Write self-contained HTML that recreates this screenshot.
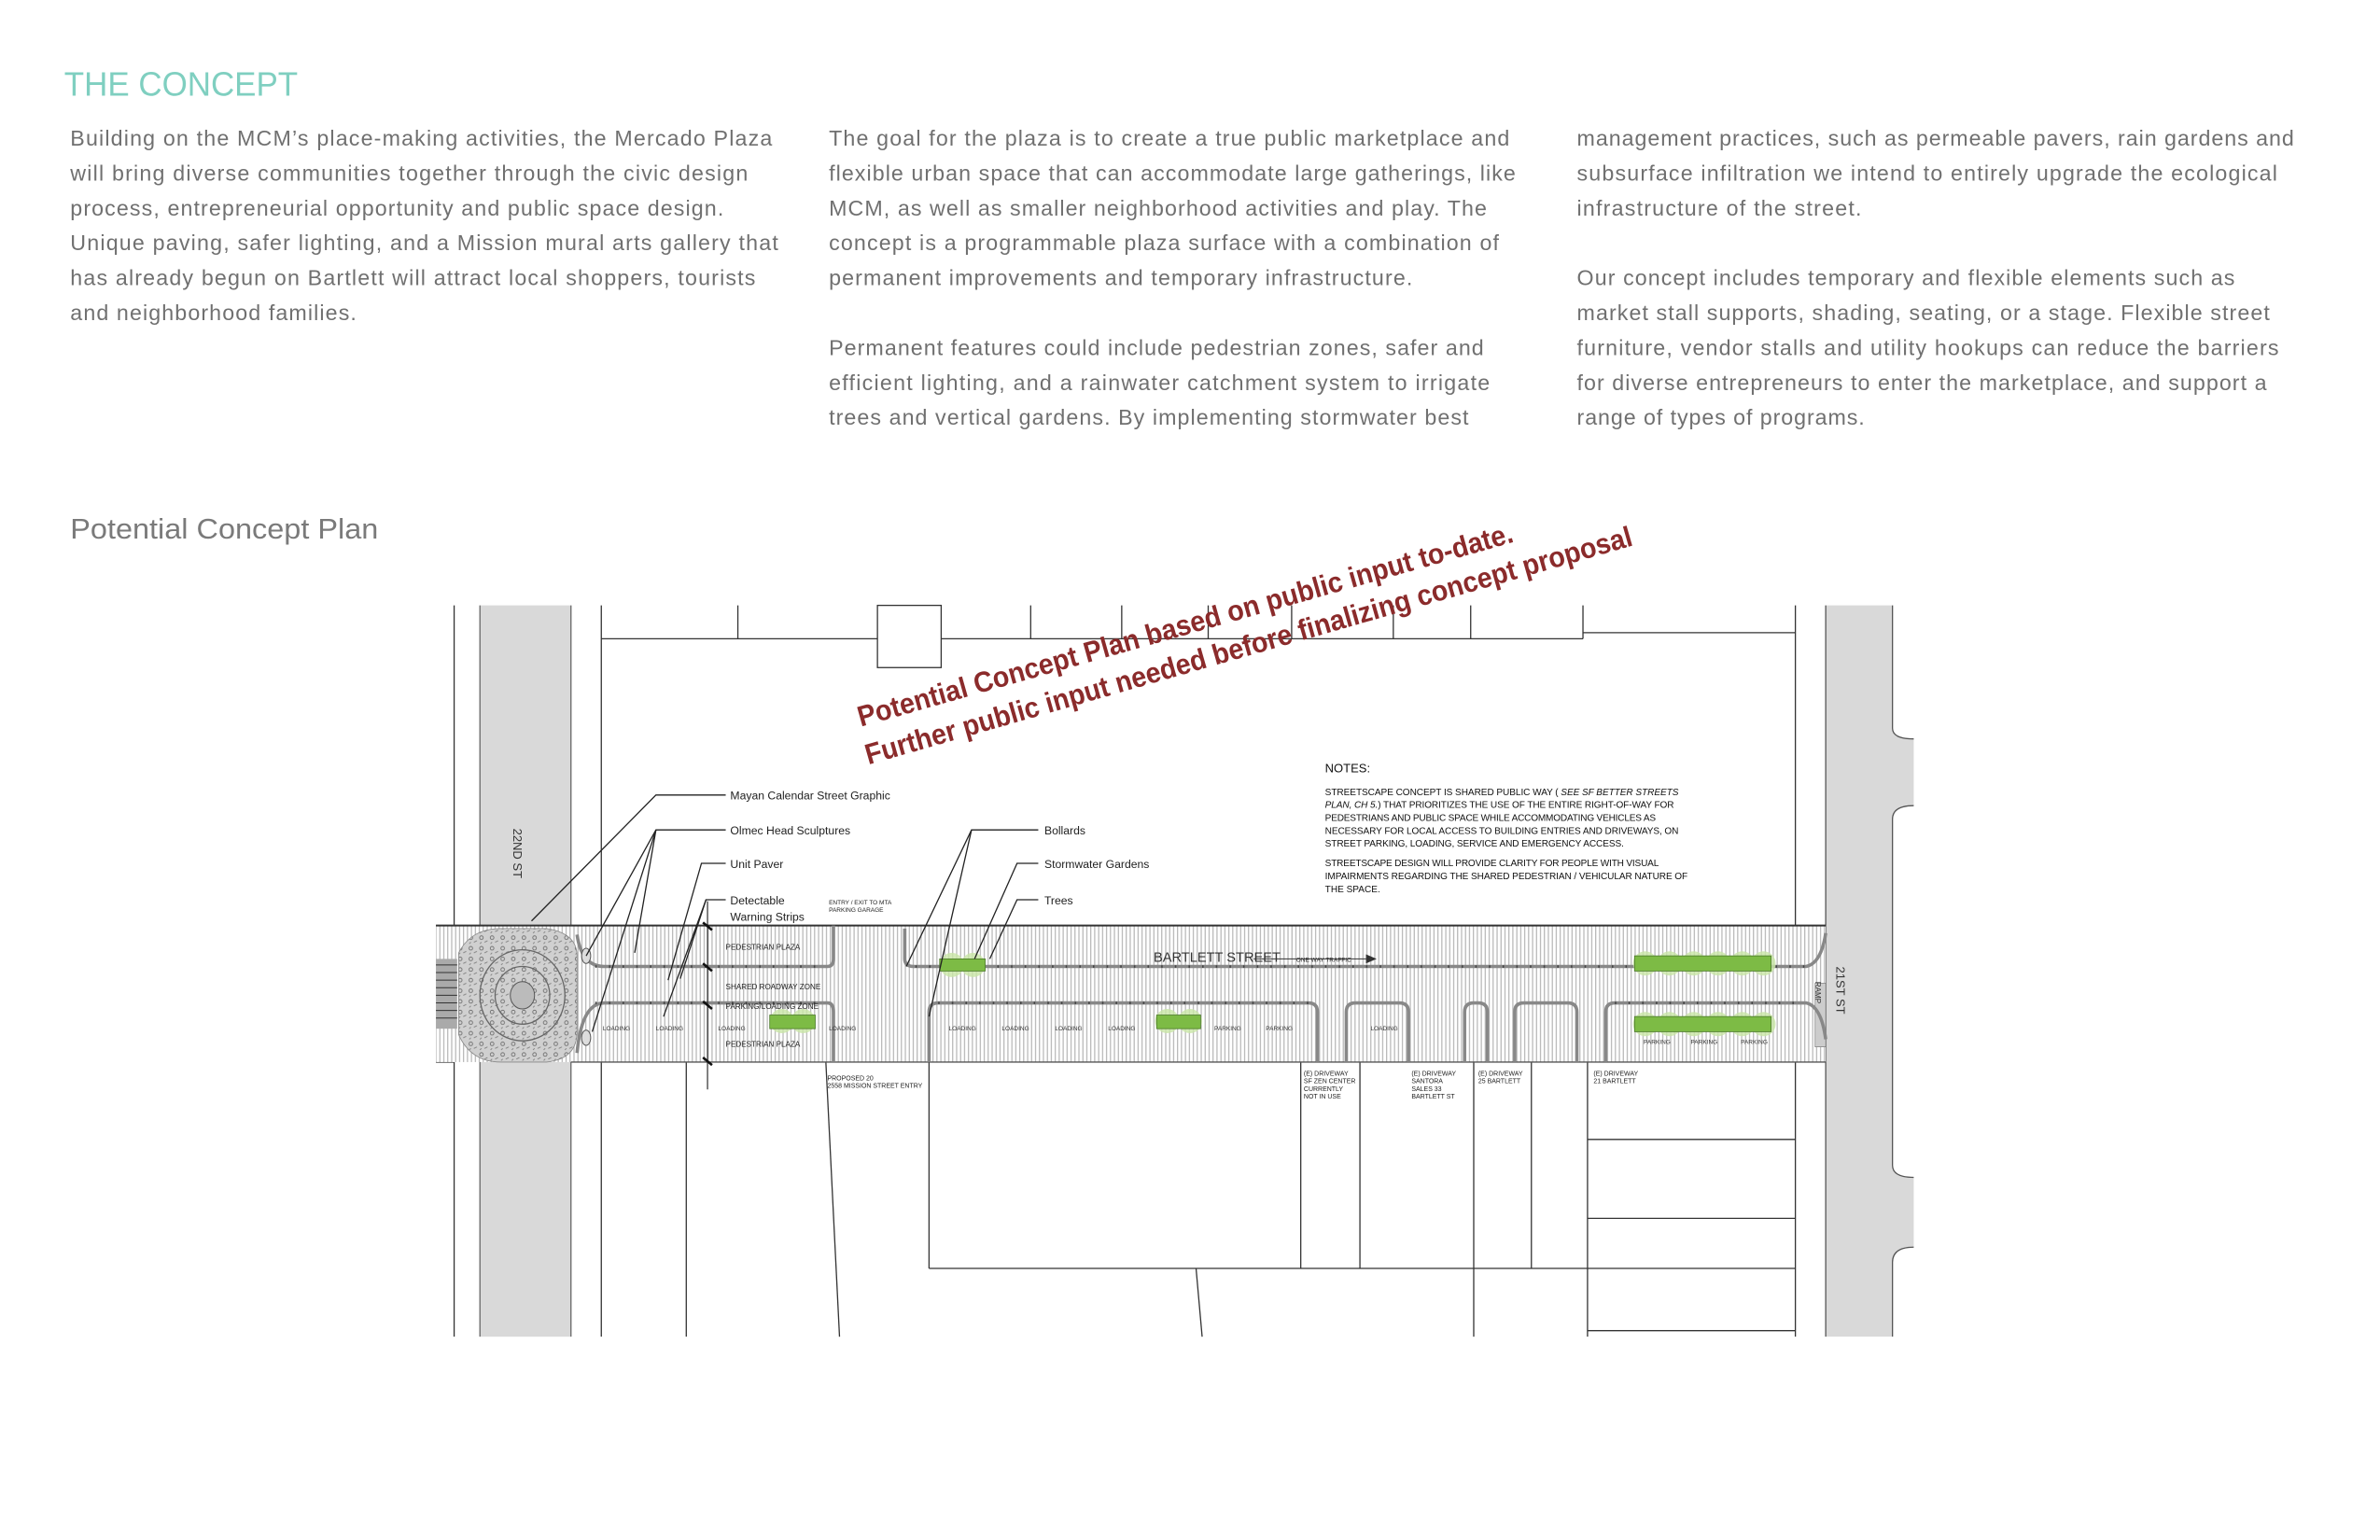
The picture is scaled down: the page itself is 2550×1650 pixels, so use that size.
<!DOCTYPE html>
<html><head><meta charset="utf-8"><style>
html,body{margin:0;padding:0;background:#fff;}
svg{display:block;}
.b{font-family:"Liberation Sans",sans-serif;font-size:14.3px;fill:#707070;letter-spacing:0.4px;}
.lbl{font-family:"Liberation Sans Narrow","Liberation Sans",sans-serif;font-size:7.5px;fill:#222;}
.tiny{font-family:"Liberation Sans",sans-serif;font-size:4px;fill:#333;}
.nt{font-family:"Liberation Sans",sans-serif;font-size:6.2px;fill:#111;}
.sm{font-family:"Liberation Sans",sans-serif;font-size:5px;fill:#222;}
</style></head><body>
<svg width="2550" height="1650" viewBox="0 0 1568 1015" xmlns="http://www.w3.org/2000/svg">
<defs>
<pattern id="h" width="2.6" height="10" patternUnits="userSpaceOnUse">
<rect width="2.6" height="10" fill="#fff"/><line x1="1" y1="0" x2="1" y2="10" stroke="#b0b0b0" stroke-width="0.7"/>
</pattern>
<pattern id="m" width="7" height="7" patternUnits="userSpaceOnUse">
<rect width="7" height="7" fill="#d0d0d0"/><circle cx="2" cy="2" r="1.2" fill="none" stroke="#666" stroke-width="0.5"/><path d="M4 5 l2 -1 M1 6 l1 -1" stroke="#777" stroke-width="0.5"/>
</pattern>
</defs>
<!-- header text -->
<text x="42" y="63" font-family="Liberation Sans, sans-serif" font-size="22" fill="#7fcfc0" textLength="154" lengthAdjust="spacingAndGlyphs">THE CONCEPT</text>
<g class="b">
<text x="46" y="96" textLength="463">Building on the MCM’s place-making activities, the Mercado Plaza</text>
<text x="46" y="119" textLength="447">will bring diverse communities together through the civic design</text>
<text x="46" y="142" textLength="431">process, entrepreneurial opportunity and public space design.</text>
<text x="46" y="165" textLength="467">Unique paving, safer lighting, and a Mission mural arts gallery that</text>
<text x="46" y="188" textLength="452">has already begun on Bartlett will attract local shoppers, tourists</text>
<text x="46" y="211" textLength="189">and neighborhood families.</text>
<text x="546" y="96" textLength="449">The goal for the plaza is to create a true public marketplace and</text>
<text x="546" y="119" textLength="453">flexible urban space that can accommodate large gatherings, like</text>
<text x="546" y="142" textLength="434">MCM, as well as smaller neighborhood activities and play. The</text>
<text x="546" y="165" textLength="442">concept is a programmable plaza surface with a combination of</text>
<text x="546" y="188" textLength="385">permanent improvements and temporary infrastructure.</text>
<text x="546" y="234" textLength="432">Permanent features could include pedestrian zones, safer and</text>
<text x="546" y="257" textLength="436">efficient lighting, and a rainwater catchment system to irrigate</text>
<text x="546" y="280" textLength="422">trees and vertical gardens. By implementing stormwater best</text>
<text x="1039" y="96" textLength="473">management practices, such as permeable pavers, rain gardens and</text>
<text x="1039" y="119" textLength="462">subsurface infiltration we intend to entirely upgrade the ecological</text>
<text x="1039" y="142" textLength="188">infrastructure of the street.</text>
<text x="1039" y="188" textLength="434">Our concept includes temporary and flexible elements such as</text>
<text x="1039" y="211" textLength="457">market stall supports, shading, seating, or a stage. Flexible street</text>
<text x="1039" y="234" textLength="463">furniture, vendor stalls and utility hookups can reduce the barriers</text>
<text x="1039" y="257" textLength="455">for diverse entrepreneurs to enter the marketplace, and support a</text>
<text x="1039" y="280" textLength="190">range of types of programs.</text>
</g>
<text x="46" y="355" font-family="Liberation Sans, sans-serif" font-size="19" fill="#7a7a7a" textLength="203" lengthAdjust="spacingAndGlyphs">Potential Concept Plan</text>

<!-- plan -->
<g fill="none" stroke="#333" stroke-width="0.8">
<rect x="316" y="399" width="60" height="482" fill="#d9d9d9" stroke="none"/>
<line x1="316" y1="399" x2="316" y2="881" stroke="#666"/>
<line x1="376" y1="399" x2="376" y2="881" stroke="#666"/>
<line x1="299" y1="399" x2="299" y2="610"/>
<line x1="299" y1="700" x2="299" y2="881"/>
<line x1="287" y1="610" x2="299" y2="610"/>
<line x1="287" y1="700" x2="299" y2="700"/>
<path d="M1203 399 H1247 V480 Q1247 487 1261 487 V531 Q1247 531 1247 540 V768 Q1247 776 1261 776 V822 Q1247 822 1247 832 V881 H1203 Z" fill="#d9d9d9" stroke="none"/>
<path d="M1247 399 V480 Q1247 487 1261 487 M1261 531 Q1247 531 1247 540 V768 Q1247 776 1261 776 M1261 822 Q1247 822 1247 832 V881" stroke="#555"/>
<line x1="1203" y1="399" x2="1203" y2="881" stroke="#555"/>
<line x1="396" y1="399" x2="396" y2="610"/>
<line x1="1183" y1="399" x2="1183" y2="610"/>
<line x1="396" y1="421" x2="578" y2="421"/>
<line x1="620" y1="421" x2="1043" y2="421"/>
<line x1="1043" y1="417" x2="1183" y2="417"/>
<line x1="1043" y1="399" x2="1043" y2="421"/>
<rect x="578" y="399" width="42" height="41"/>
<line x1="486" y1="399" x2="486" y2="421"/>
<line x1="679" y1="399" x2="679" y2="421"/>
<line x1="739" y1="399" x2="739" y2="421"/>
<line x1="796" y1="399" x2="796" y2="421"/>
<line x1="851" y1="399" x2="851" y2="421"/>
<line x1="918" y1="399" x2="918" y2="421"/>
<line x1="969" y1="399" x2="969" y2="421"/>
<line x1="396" y1="700" x2="396" y2="881"/>
<line x1="452" y1="700" x2="452" y2="881"/>
<line x1="544" y1="700" x2="553" y2="881"/>
<line x1="612" y1="700" x2="612" y2="836"/>
<line x1="612" y1="836" x2="1183" y2="836"/>
<line x1="788" y1="836" x2="792" y2="881"/>
<line x1="857" y1="700" x2="857" y2="836"/>
<line x1="896" y1="700" x2="896" y2="836"/>
<line x1="971" y1="700" x2="971" y2="836"/>
<line x1="1009" y1="700" x2="1009" y2="836"/>
<line x1="971" y1="836" x2="971" y2="881"/>
<line x1="1046" y1="700" x2="1046" y2="881"/>
<line x1="1183" y1="700" x2="1183" y2="881"/>
<line x1="1046" y1="751" x2="1183" y2="751"/>
<line x1="1046" y1="803" x2="1183" y2="803"/>
<line x1="1046" y1="877" x2="1183" y2="877"/>
</g>
<rect x="287" y="610" width="916" height="90" fill="url(#h)"/>
<line x1="287" y1="610" x2="1203" y2="610" stroke="#333" stroke-width="1.2"/>
<line x1="376" y1="700" x2="1203" y2="700" stroke="#555" stroke-width="0.8"/>
<rect x="1196" y="648" width="7" height="42" fill="#ccc" stroke="#777" stroke-width="0.4"/>
<rect x="287" y="632" width="14" height="46" fill="#aaa"/>
<g stroke="#333" stroke-width="0.6"><line x1="287" y1="636" x2="301" y2="636"/><line x1="287" y1="641" x2="301" y2="641"/><line x1="287" y1="646" x2="301" y2="646"/><line x1="287" y1="651" x2="301" y2="651"/><line x1="287" y1="656" x2="301" y2="656"/><line x1="287" y1="661" x2="301" y2="661"/><line x1="287" y1="666" x2="301" y2="666"/><line x1="287" y1="671" x2="301" y2="671"/></g>
<path d="M302 628 Q310 612 330 612 H360 Q380 615 380 630 V680 Q380 698 360 700 H330 Q310 700 302 682 Z" fill="url(#m)" stroke="#888" stroke-width="0.5"/>
<ellipse cx="344" cy="656" rx="28" ry="30" fill="none" stroke="#666" stroke-width="0.8"/>
<ellipse cx="344" cy="656" rx="18" ry="19" fill="none" stroke="#666" stroke-width="0.8"/>
<ellipse cx="344" cy="656" rx="8" ry="9" fill="#bbb" stroke="#555" stroke-width="0.6"/>
<g fill="none" stroke="#888" stroke-width="2.2">
<path d="M380 616 Q383 637 398 637 H545 Q549 637 549 632 V610"/>
<path d="M596 612 V632 Q596 637 602 637 H1190 Q1200 635 1203 615"/>
<path d="M380 694 Q383 661 398 661 H545 Q549 661 549 667 V700"/>
<path d="M612 700 V667 Q612 661 618 661 H862 Q868 661 868 667 V700"/>
<path d="M887 700 V667 Q887 661 893 661 H922 Q928 661 928 667 V700"/>
<path d="M965 700 V667 Q965 661 971 661 H974 Q980 661 980 667 V700"/>
<path d="M998 700 V667 Q998 661 1004 661 H1033 Q1039 661 1039 667 V700"/>
<path d="M1058 700 V667 Q1058 661 1064 661 H1190 Q1200 663 1203 685"/>
</g>
<g fill="none" stroke="#444" stroke-width="1.6" stroke-dasharray="1 8">
<line x1="392" y1="637" x2="545" y2="637"/><line x1="603" y1="637" x2="1190" y2="637"/>
<line x1="392" y1="661" x2="545" y2="661"/><line x1="618" y1="661" x2="862" y2="661"/><line x1="1064" y1="661" x2="1190" y2="661"/>
</g>
<ellipse cx="386" cy="630" rx="3" ry="5" fill="#ddd" stroke="#555" stroke-width="0.6"/>
<ellipse cx="386" cy="684" rx="3" ry="5" fill="#ddd" stroke="#555" stroke-width="0.6"/>
<g fill="#c9e6a6" opacity="0.8">
<circle cx="627" cy="636" r="8"/><circle cx="641" cy="636" r="8"/>
<circle cx="515" cy="673" r="8"/><circle cx="529" cy="673" r="8"/>
<circle cx="769" cy="673" r="8"/><circle cx="784" cy="673" r="8"/>
<circle cx="1084" cy="635" r="8"/><circle cx="1100" cy="635" r="8"/><circle cx="1116" cy="635" r="8"/><circle cx="1132" cy="635" r="8"/><circle cx="1148" cy="635" r="8"/><circle cx="1162" cy="635" r="8"/>
<circle cx="1084" cy="675" r="8"/><circle cx="1100" cy="675" r="8"/><circle cx="1116" cy="675" r="8"/><circle cx="1132" cy="675" r="8"/><circle cx="1148" cy="675" r="8"/><circle cx="1162" cy="675" r="8"/>
</g>
<g fill="#7dbb45" stroke="#4c7a2a" stroke-width="0.5">
<rect x="619" y="632" width="30" height="8"/><rect x="507" y="669" width="30" height="9"/><rect x="762" y="669" width="29" height="9"/>
<rect x="1077" y="630" width="90" height="10"/><rect x="1077" y="670" width="90" height="10"/>
</g>
<line x1="466" y1="594" x2="466" y2="718" stroke="#222" stroke-width="0.7"/>
<g stroke="#111" stroke-width="1.6"><line x1="463" y1="608" x2="469" y2="613"/><line x1="463" y1="635" x2="469" y2="640"/><line x1="463" y1="660" x2="469" y2="665"/><line x1="463" y1="697" x2="469" y2="702"/></g>
<g class="sm">
<text x="478" y="626">PEDESTRIAN PLAZA</text><text x="478" y="652">SHARED ROADWAY ZONE</text><text x="478" y="665">PARKING/LOADING ZONE</text><text x="478" y="690">PEDESTRIAN PLAZA</text>
<text x="760" y="634" font-size="9" fill="#333">BARTLETT STREET</text>
<text x="854" y="634" font-size="4">ONE WAY TRAFFIC</text>
<text x="546" y="596" font-size="4">ENTRY / EXIT TO MTA</text><text x="546" y="601" font-size="4">PARKING GARAGE</text>
<text x="545" y="712" font-size="4.3">PROPOSED 20</text><text x="545" y="717" font-size="4.3">2558 MISSION STREET ENTRY</text>
<text x="859" y="709" font-size="4.3">(E) DRIVEWAY</text><text x="859" y="714" font-size="4.3">SF ZEN CENTER</text><text x="859" y="719" font-size="4.3">CURRENTLY</text><text x="859" y="724" font-size="4.3">NOT IN USE</text>
<text x="930" y="709" font-size="4.3">(E) DRIVEWAY</text><text x="930" y="714" font-size="4.3">SANTORA</text><text x="930" y="719" font-size="4.3">SALES 33</text><text x="930" y="724" font-size="4.3">BARTLETT ST</text>
<text x="974" y="709" font-size="4.3">(E) DRIVEWAY</text><text x="974" y="714" font-size="4.3">25 BARTLETT</text>
<text x="1050" y="709" font-size="4.3">(E) DRIVEWAY</text><text x="1050" y="714" font-size="4.3">21 BARTLETT</text>
</g>
<line x1="826" y1="632" x2="900" y2="632" stroke="#333" stroke-width="0.6"/>
<path d="M900 629 L907 632 L900 635 Z" fill="#333"/>
<g class="tiny">
<text x="397" y="679">LOADING</text><text x="432" y="679">LOADING</text><text x="473" y="679">LOADING</text><text x="546" y="679">LOADING</text>
<text x="625" y="679">LOADING</text><text x="660" y="679">LOADING</text><text x="695" y="679">LOADING</text><text x="730" y="679">LOADING</text>
<text x="800" y="679">PARKING</text><text x="834" y="679">PARKING</text><text x="903" y="679">LOADING</text>
<text x="1083" y="688">PARKING</text><text x="1114" y="688">PARKING</text><text x="1147" y="688">PARKING</text>
</g>
<text transform="translate(338,546) rotate(90)" font-family="Liberation Sans, sans-serif" font-size="8" fill="#333">22ND ST</text>
<text transform="translate(1210,637) rotate(90)" font-family="Liberation Sans, sans-serif" font-size="8" fill="#333">21ST ST</text>
<text transform="translate(1196,647) rotate(90)" font-family="Liberation Sans, sans-serif" font-size="5" fill="#333">RAMP</text>
<g class="lbl">
<text x="481" y="527">Mayan Calendar Street Graphic</text>
<text x="481" y="550">Olmec Head Sculptures</text>
<text x="481" y="572">Unit Paver</text>
<text x="481" y="596">Detectable</text><text x="481" y="607">Warning Strips</text>
<text x="688" y="550">Bollards</text>
<text x="688" y="572">Stormwater Gardens</text>
<text x="688" y="596">Trees</text>
</g>
<g fill="none" stroke="#222" stroke-width="0.8">
<polyline points="478,524 432,524 350,607"/>
<polyline points="478,547 432,547 386,630"/><line x1="432" y1="547" x2="390" y2="680"/><line x1="432" y1="547" x2="418" y2="628"/>
<polyline points="478,569 462,569 440,646"/>
<polyline points="478,593 465,593 437,670"/><line x1="465" y1="593" x2="448" y2="645"/>
<polyline points="684,547 640,547 597,637"/><line x1="640" y1="547" x2="612" y2="670"/>
<polyline points="684,569 670,569 642,632"/>
<polyline points="684,593 670,593 652,632"/>
</g>
<g class="nt">
<text x="873" y="509" font-size="8">NOTES:</text>
<text x="873" y="524" textLength="233">STREETSCAPE CONCEPT IS SHARED PUBLIC WAY ( <tspan font-style="italic">SEE SF BETTER STREETS</tspan></text>
<text x="873" y="532.5" textLength="230"><tspan font-style="italic">PLAN, CH 5.</tspan>) THAT PRIORITIZES THE USE OF THE ENTIRE RIGHT-OF-WAY FOR</text>
<text x="873" y="541" textLength="218">PEDESTRIANS AND PUBLIC SPACE WHILE ACCOMMODATING VEHICLES AS</text>
<text x="873" y="549.5" textLength="233">NECESSARY FOR LOCAL ACCESS TO BUILDING ENTRIES AND DRIVEWAYS, ON</text>
<text x="873" y="558" textLength="197">STREET PARKING, LOADING, SERVICE AND EMERGENCY ACCESS.</text>
<text x="873" y="571" textLength="220">STREETSCAPE DESIGN WILL PROVIDE CLARITY FOR PEOPLE WITH VISUAL</text>
<text x="873" y="579.5" textLength="239">IMPAIRMENTS REGARDING THE SHARED PEDESTRIAN / VEHICULAR NATURE OF</text>
<text x="873" y="588">THE SPACE.</text>
</g>
<g font-family="Liberation Sans Narrow, Liberation Sans, sans-serif" font-weight="bold" font-size="19" fill="#8b2b2b">
<text transform="translate(567,479) rotate(-15.8)" textLength="448" lengthAdjust="spacingAndGlyphs">Potential Concept Plan based on public input to-date.</text>
<text transform="translate(572,504) rotate(-16)" textLength="525" lengthAdjust="spacingAndGlyphs">Further public input needed before finalizing concept proposal</text>
</g>
</svg>
</body></html>
